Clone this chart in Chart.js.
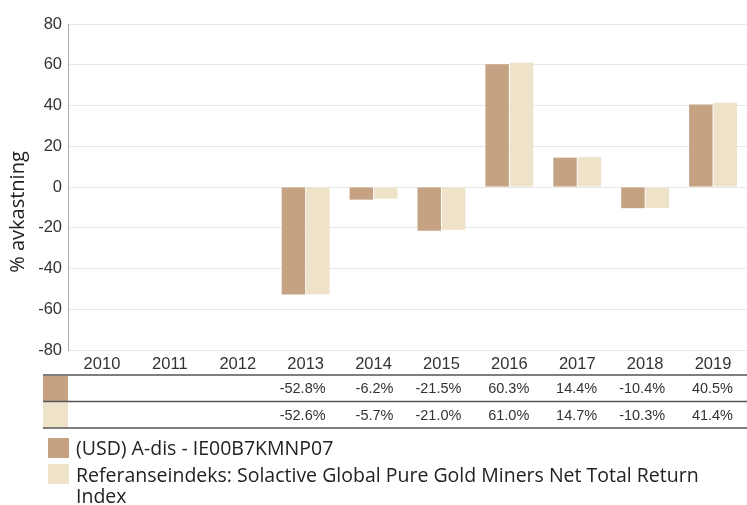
<!DOCTYPE html>
<html>
<head>
<meta charset="utf-8">
<script src="https://cdn.jsdelivr.net/npm/chart.js@4.4.1/dist/chart.umd.min.js"></script>
<style>
  html, body { margin: 0; padding: 0; background: #fff; }
  #wrap { width: 747px; height: 505px; }
</style>
</head>
<body>
<div id="wrap"><canvas id="returnsChart" width="747" height="505"></canvas></div>
<script>
const years = ['2010', '2011', '2012', '2013', '2014', '2015', '2016', '2017', '2018', '2019'];
const fundValues = [null, null, null, -52.8, -6.2, -21.5, 60.3, 14.4, -10.4, 40.5];
const indexValues = [null, null, null, -52.6, -5.7, -21.0, 61.0, 14.7, -10.3, 41.4];
const fundLabel = '(USD) A-dis - IE00B7KMNP07';
const indexLabel = ['Referanseindeks: Solactive Global Pure Gold Miners Net Total Return', 'Index'];
const yTicks = [-80, -60, -40, -20, 0, 20, 40, 60, 80];

const fundColor = '#c4a282';
const indexColor = '#eee2c8';

// table under the axis + legend + y title, drawn on the canvas
const extrasPlugin = {
    id: 'extras',
    afterDraw(chart) {
        const ctx = chart.ctx;
        const x = chart.scales.x;
        const area = chart.chartArea;
        const colW = x.getPixelForValue(1) - x.getPixelForValue(0);

        ctx.save();

        // y axis title
        ctx.translate(18, 212);
        ctx.rotate(-Math.PI / 2);
        ctx.fillStyle = '#222';
        ctx.font = '20px "Open Sans"';
        ctx.textAlign = 'center';
        ctx.textBaseline = 'middle';
        ctx.fillText('% avkastning', 0, 0);
        ctx.setTransform(1, 0, 0, 1, 0, 0);

        // table
        const rowTop = [375, 401.5];
        const rowH = 26.5;
        const rows = [[fundValues, fundColor], [indexValues, indexColor]];
        rows.forEach(([vals, color], r) => {
            ctx.fillStyle = color;
            ctx.fillRect(43, rowTop[r] + 1, 25, rowH - 1.5);
            ctx.fillStyle = '#333';
            ctx.font = '14.5px "Liberation Sans"';
            ctx.textAlign = 'right';
            ctx.textBaseline = 'middle';
            vals.forEach((v, i) => {
                if (v === null) return;
                const right = x.getPixelForValue(i) + colW / 2 - 14;
                ctx.fillText(v.toFixed(1) + '%', right, rowTop[r] + rowH / 2 + 1);
            });
        });
        ctx.strokeStyle = '#555';
        ctx.lineWidth = 1.5;
        [375, 401.5, 428].forEach(y => {
            ctx.beginPath();
            ctx.moveTo(43, y);
            ctx.lineTo(area.right, y);
            ctx.stroke();
        });

        // legend
        ctx.font = '19.5px "Open Sans"';
        ctx.textAlign = 'left';
        ctx.textBaseline = 'middle';
        ctx.fillStyle = fundColor;
        ctx.fillRect(48, 438, 21, 20);
        ctx.fillStyle = indexColor;
        ctx.fillRect(48, 464, 21, 20);
        ctx.fillStyle = '#222';
        ctx.fillText(fundLabel, 76, 449);
        ctx.fillText(indexLabel[0], 76, 476);
        ctx.fillText(indexLabel[1], 76, 497);

        ctx.restore();
    }
};

const ctx = document.getElementById('returnsChart').getContext('2d');
const chart = new Chart(ctx, {
    type: 'bar',
    data: {
        labels: years,
        datasets: [{
            label: fundLabel,
            data: fundValues,
            backgroundColor: fundColor,
            borderWidth: 0
        }, {
            label: indexLabel.join(' '),
            data: indexValues,
            backgroundColor: indexColor,
            borderWidth: 0
        }]
    },
    options: {
        responsive: false,
        animation: false,
        categoryPercentage: 0.72,
        barPercentage: 0.96,
        layout: {
            padding: { top: 24, right: 0, bottom: 0, left: 0 }
        },
        plugins: {
            legend: { display: false },
            tooltip: { enabled: false }
        },
        scales: {
            x: {
                grid: { display: false, drawTicks: false },
                border: { display: false },
                ticks: {
                    color: '#333',
                    font: { family: 'Liberation Sans', size: 16.5 },
                    padding: 5,
                    maxRotation: 0
                },
                afterFit(scale) { scale.height = 155; }
            },
            y: {
                min: -80,
                max: 80,
                afterBuildTicks(scale) { scale.ticks = yTicks.map(v => ({ value: v })); },
                grid: { color: '#e6e6e6', drawTicks: false },
                border: { color: '#aaa', width: 1 },
                ticks: {
                    color: '#333',
                    font: { family: 'Liberation Sans', size: 16.5 },
                    padding: 6
                },
                afterFit(scale) { scale.width = 68; }
            }
        }
    },
    plugins: [extrasPlugin]
});
</script>
</body>
</html>
